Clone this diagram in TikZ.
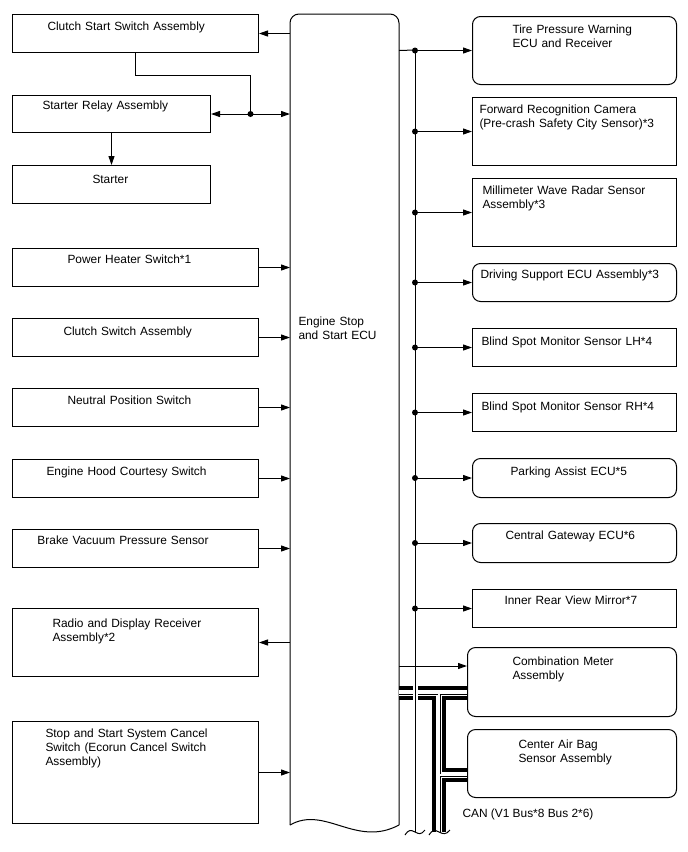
\documentclass[tikz,border=0pt]{standalone}
\usepackage{fontspec}
\setmainfont{Liberation Sans}
\usetikzlibrary{arrows.meta,calc}

\begin{document}
\begin{tikzpicture}[
    x=1pt,y=-1pt,
    line width=1pt,
    lbl/.style={font=\fontsize{11.9}{14}\selectfont},
    txt/.style={lbl,anchor=north west,inner ysep=0pt,align=left},
    box/.style={txt,draw},
    rbox/.style={box,rounded corners=8pt},
    sz/.style n args={4}{inner xsep=#2pt,text width=#1pt-#2pt-#2pt,text height=#4pt,text depth=#3pt-#4pt},
    arrow/.style={-{Triangle[length=9pt,width=6pt]}},
    twoway/.style={{Triangle[length=9pt,width=6pt]}-{Triangle[length=9pt,width=6pt]}}
  ]
    \useasboundingbox (0,0) rectangle (688,852);

    % left column
    \node[box,sz={246}{35}{38}{16}] (css) at (12,14) {Clutch Start Switch Assembly};
    \node[box,sz={198}{30}{37}{14}] (srl) at (12,95) {Starter Relay Assembly};
    \node[box,sz={198}{80}{38}{18}] (stt) at (12,165) {Starter};
    \node[box,sz={246}{55}{38}{15}] (phs) at (12,248) {Power Heater Switch*1};
    \node[box,sz={246}{51}{38}{17}] (csw) at (12,318) {Clutch Switch Assembly};
    \node[box,sz={246}{55}{38}{16}] (nps) at (12,388) {Neutral Position Switch};
    \node[box,sz={246}{34}{38}{16}] (ehc) at (12,459) {Engine Hood Courtesy Switch};
    \node[box,sz={246}{25}{38}{15}] (bvp) at (12,529) {Brake Vacuum Pressure Sensor};
    \node[box,sz={246}{40}{68}{19}] (rdr) at (12,608) {Radio and Display Receiver\\Assembly*2};
    \node[box,sz={246}{33}{102}{16}] (ssc) at (12,721) {Stop and Start System Cancel\\Switch (Ecorun Cancel Switch\\Assembly)};

    % engine stop and start ECU
    \node[txt,sz={108}{8}{810}{311}] (ecu) at (290,14) {Engine Stop\\and Start ECU};
    \draw[rounded corners=9pt] (ecu.south west) -- (ecu.north west) -- (ecu.north east) -- (ecu.south east);
    \draw (ecu.south east) .. controls +(-43,23) and +(35,-20) .. (ecu.south west);

    % right column
    \node[rbox,sz={204}{40}{68}{17}] (tpw) at (472,16) {Tire Pressure Warning\\ECU and Receiver};
    \node[box,sz={204}{7}{68}{16}] (fwd) at (472,97) {Forward Recognition Camera\\(Pre-crash Safety City Sensor)*3};
    \node[box,sz={204}{10}{68}{16}] (mwr) at (472,178) {Millimeter Wave Radar Sensor\\Assembly*3};
    \node[rbox,sz={204}{8}{38}{15}] (dsu) at (472,263) {Driving Support ECU Assembly*3};
    \node[box,sz={204}{9}{38}{17}] (bsl) at (472,328) {Blind Spot Monitor Sensor LH*4};
    \node[box,sz={204}{9}{38}{17}] (bsr) at (472,393) {Blind Spot Monitor Sensor RH*4};
    \node[rbox,sz={204}{38}{39}{17}] (pae) at (472,458) {Parking Assist ECU*5};
    \node[rbox,sz={204}{33}{39}{16}] (cgw) at (472,523) {Central Gateway ECU*6};
    \node[box,sz={204}{32}{38}{15}] (irm) at (472,589) {Inner Rear View Mirror*7};
    \node[rbox,sz={209}{45}{69}{18}] (cmb) at (467,647) {Combination Meter\\Assembly};
    \node[rbox,sz={209}{51}{68}{19}] (cab) at (467,729) {Center Air Bag\\Sensor Assembly};
    \node[lbl,anchor=base west,inner sep=0pt] (canlbl) at (462,817) {CAN (V1 Bus*8 Bus 2*6)};

    % left connections
    \draw[arrow] (ecu.west |- css) -- (css.east);
    \coordinate (relj) at ($(srl.east)!.5!(ecu.west |- srl)$);
    \draw[twoway] (srl.east) -- (ecu.west |- srl);
    \draw (css.south) -- ++(0,22) -| (relj);
    \fill (relj) circle (3pt);
    \draw[arrow] (srl.south) -- (stt.north);
    \foreach \n in {phs,csw,nps,ehc,bvp,ssc}
      \draw[arrow] (\n.east) -- (ecu.west |- \n);
    \draw[arrow] (ecu.west |- rdr) -- (rdr.east);

    % CAN pair
    \coordinate (cant) at (439,693);
    \coordinate (canab) at (439,775);
    \coordinate (canb) at (439,832);
    \foreach \w/\c in {13.5pt/black,6.5pt/white}
      \draw[line width=\w,draw=\c] (ecu.east |- cant) -- (cmb.west |- cant) (cant) -- (canb) (canab) -- (cab.west |- canab);
    \draw[line width=.7pt,double=white,double distance=1.6pt] (ecu.east |- cant) -- (cmb.west |- cant) (cant) -- (canb) (canab) -- (cab.west |- canab);
    \draw ($(canb)+(-10,3)$) .. controls +(4,-6) and +(-4,-2) .. (canb) .. controls +(4,2) and +(-4,5) .. ($(canb)+(11,-2)$);

    % bus
    \coordinate (bustop) at (415,50);
    \coordinate (busend) at (415,832);
    \draw[preaction={draw=white,line width=5pt}] (bustop) -- (busend);
    \draw ($(busend)+(-10,3)$) .. controls +(4,-6) and +(-4,-2) .. (busend) .. controls +(4,2) and +(-4,5) .. ($(busend)+(10,-2)$);
    \draw (ecu.east |- tpw) -- (bustop);
    \foreach \n in {tpw,fwd,mwr,dsu,bsl,bsr,pae,cgw,irm} {
      \draw[arrow] (bustop |- \n) -- (\n.west);
      \fill (bustop |- \n) circle (3pt);
    }
    \coordinate (cmbin) at ($(cmb.north west)+(0,19)$);
    \draw[arrow] (ecu.east |- cmbin) -- (cmbin);
\end{tikzpicture}
\end{document}
